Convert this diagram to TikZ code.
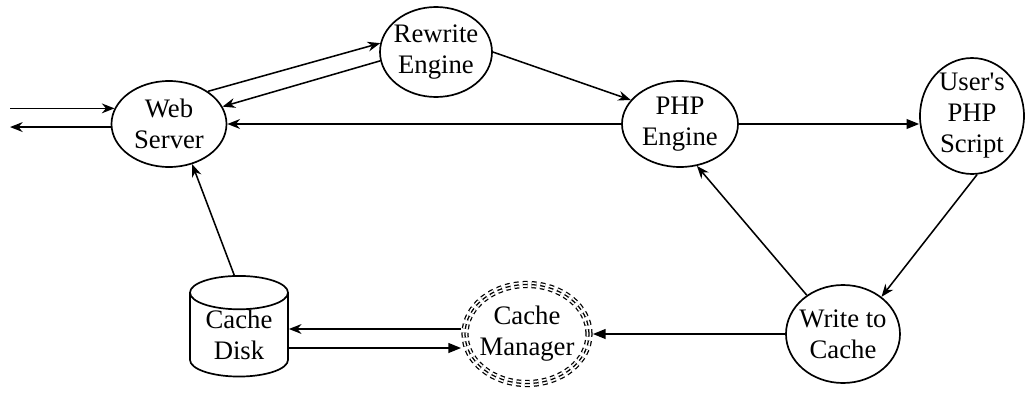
\documentclass[tikz,border=0pt]{standalone}
\usepackage{fontspec}
\setmainfont{Liberation Serif}
\usepackage{tikz}
\usetikzlibrary{arrows.meta, shapes.geometric}

\begin{document}
\begin{tikzpicture}[
                proc/.style={draw, ellipse, line width=1.2pt, inner sep=-4pt, align=center,
                             font=\fontsize{19}{22}\selectfont},
                store/.style={draw, cylinder, shape border rotate=90, aspect=0.5, line width=1.2pt,
                              inner sep=0pt, align=center, font=\fontsize{19}{22}\selectfont},
                mgr/.style={proc, dashed, dash pattern=on 3.4pt off 2.8pt, line width=0.9pt,
                            double, double distance=3.3pt, outer sep=2.8pt},
                flow/.style={line width=1.1pt},
                >={Stealth[length=9pt, width=7pt]}
            ]

                \useasboundingbox (0,0) rectangle (25.65,9.8);

                \node[proc] (web)     at (4.225,6.7)  [minimum width=2.875cm, minimum height=2.15cm] {Web\\Server};
                \node[proc] (rewrite) at (10.9,8.5)   [minimum width=2.8cm, minimum height=2.25cm]   {Rewrite\\Engine};
                \node[proc] (php)     at (17.0,6.7)   [minimum width=2.9cm, minimum height=2.15cm]   {PHP\\Engine};
                \node[proc] (script)  at (24.3,6.9)   [minimum width=2.6cm, minimum height=2.9cm]    {User\textquotesingle s\\PHP\\Script};
                \node[proc] (write)   at (21.075,1.45) [minimum width=2.85cm, minimum height=2.45cm] {Write to\\Cache};
                \node[mgr]  (manager) at (13.175,1.45) [minimum width=3.1cm, minimum height=2.475cm] {Cache\\Manager};
                \node[store] (disk)   at (5.975,1.425) [minimum width=2.45cm, minimum height=2.4cm]  {Cache\\Disk};
                \draw[dashed, dash pattern=on 3.4pt off 2.8pt, line width=0.9pt]
                    (manager.center) ellipse [x radius=1.55cm, y radius=1.2375cm];

                \coordinate (req_in)  at (0.25,0 |- web.164);
                \coordinate (resp_out) at (0.25,0 |- web.183);

                \draw[flow, ->] (req_in) -- (web.164);
                \draw[flow, ->] (web.183) -- (resp_out);
                \draw[flow, ->] (web.40) -- (rewrite.171);
                \draw[flow, ->] (rewrite.189) -- (web.18);
                \draw[flow, ->] (rewrite.0) -- (php.154);
                \draw[flow, ->] (php) -- (web);
                \draw[flow, -{Triangle[length=9pt, width=7pt]}] (php.east) -- (php.east -| script.west);
                \draw[flow, ->] (script.275) -- (write.44);
                \draw[flow, ->] (write.133) -- (php.292);
                \draw[flow, -{Triangle[length=9pt, width=7pt]}] (write) -- (manager);
                \draw[flow, ->] ([yshift=0.125cm]manager.west) -- ([yshift=0.125cm]manager.west -| disk.east);
                \draw[flow, -{Triangle[length=9pt, width=7pt]}] ([yshift=-0.35cm]manager.west -| disk.east) -- ([yshift=-0.35cm]manager.west);
                \draw[flow, ->] ([xshift=-0.12cm]disk.north) -- (web.300);

            \end{tikzpicture}
\end{document}
